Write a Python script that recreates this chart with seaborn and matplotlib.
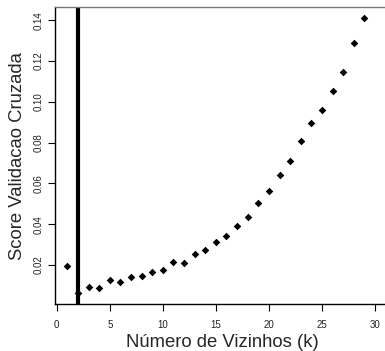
import matplotlib
matplotlib.use("Agg")
import matplotlib.pyplot as plt
import seaborn as sns
import pandas as pd

k_values = list(range(1, 30))
cv_scores = [0.0194, 0.0061, 0.0094, 0.0086, 0.0125, 0.0118, 0.0143, 0.0145, 0.0164, 0.0175,
             0.0213, 0.0209, 0.0252, 0.0272, 0.0313, 0.0342, 0.0390, 0.0434, 0.0502, 0.0564,
             0.0643, 0.0710, 0.0806, 0.0898, 0.0960, 0.1054, 0.1148, 0.1290, 0.1412]
best_k = 2
x_ticks = [0, 5, 10, 15, 20, 25, 30]
y_ticks = [0.02, 0.04, 0.06, 0.08, 0.10, 0.12, 0.14]
y_tick_labels = ["0.02", "0.04", "0.06", "0.08", "0.10", "0.12", "0.14"]

sns.set_style("white")
plt.rcParams['font.family'] = ['Liberation Sans', 'DejaVu Sans']

df = pd.DataFrame({"k": k_values, "score": cv_scores})

fig = plt.figure(figsize=(3.85, 3.51), dpi=100)
ax = fig.add_axes([55/385, 1 - 304.3/351, 1 - 55/385 + 0.01, (304.3 - 7.3)/351])

sns.scatterplot(data=df, x="k", y="score", marker="D", color="black", s=15,
                linewidth=0, ax=ax, legend=False)
ax.axvline(best_k, color="black", lw=3)

ax.set_xlim(-0.16, 31.3)
ax.set_ylim(0.0007, 0.1463)
ax.set_xticks(x_ticks)
ax.set_xticklabels([str(t) for t in x_ticks])
ax.set_yticks(y_ticks)
ax.set_yticklabels(y_tick_labels, rotation=90, va="center")
ax.tick_params(axis="x", direction="out", length=5, width=0.8, color="black",
               labelsize=7, labelcolor="#222222", pad=6, bottom=True)
ax.tick_params(axis="y", direction="out", length=5, width=0.8, color="black",
               labelsize=7, labelcolor="#222222", pad=3, left=True)

for side in ["left", "bottom"]:
    ax.spines[side].set_color("black")
    ax.spines[side].set_linewidth(1.0)
ax.spines["top"].set_color("#777777")
ax.spines["top"].set_linewidth(1.0)
ax.spines["right"].set_visible(False)

ax.set_xlabel("Número de Vizinhos (k)", fontsize=13.3, labelpad=3)
ax.set_ylabel("Score Validacao Cruzada", fontsize=13.3, labelpad=6)

fig.savefig("out.png", dpi=100)
